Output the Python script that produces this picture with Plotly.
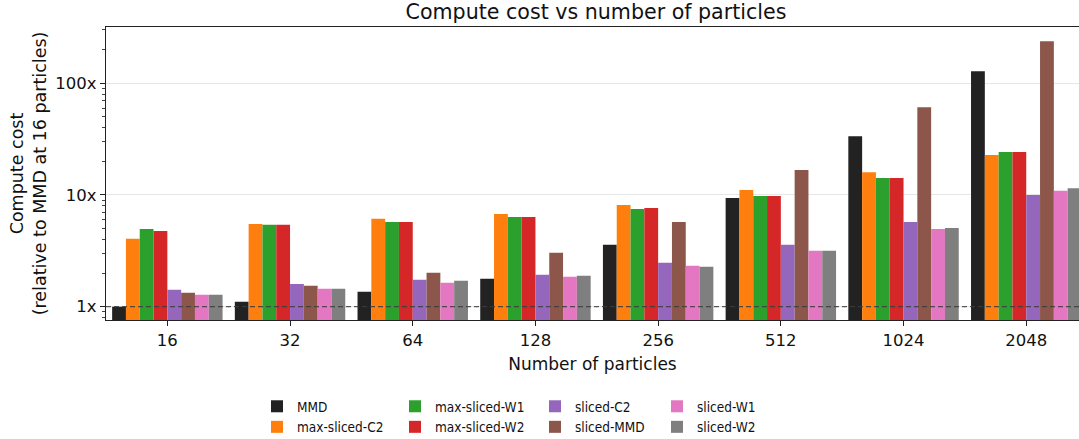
import plotly.graph_objects as go

# Particle counts (x categories)
particles = ["16", "32", "64", "128", "256", "512", "1024", "2048"]

# Relative compute cost per method (relative to MMD at 16 particles)
mmd = [1.0, 1.11, 1.36, 1.78, 3.58, 9.4, 33.6, 128]
max_sliced_c2 = [4.05, 5.51, 6.11, 6.76, 8.15, 11.1, 16.0, 22.8]
max_sliced_w1 = [4.97, 5.40, 5.74, 6.36, 7.50, 9.8, 14.2, 24.2]
max_sliced_w2 = [4.77, 5.40, 5.74, 6.36, 7.66, 9.8, 14.2, 24.2]
sliced_c2 = [1.42, 1.60, 1.74, 1.93, 2.47, 3.58, 5.74, 10.0]
sliced_mmd = [1.33, 1.54, 2.01, 3.04, 5.74, 16.7, 61.0, 237]
sliced_w1 = [1.28, 1.45, 1.64, 1.85, 2.32, 3.16, 4.97, 10.9]
sliced_w2 = [1.28, 1.45, 1.71, 1.89, 2.28, 3.16, 5.07, 11.5]

y_tickvals = [1, 10, 100]
y_ticktext = ["1x", "10x", "100x"]
y_minor_vals = [0.8, 0.9, 2, 3, 4, 5, 6, 7, 8, 9,
                20, 30, 40, 50, 60, 70, 80, 90, 200, 300]

series = [
    ("MMD", mmd, "#222222", "legend"),
    ("max-sliced-C2", max_sliced_c2, "#ff7f0e", "legend"),
    ("max-sliced-W1", max_sliced_w1, "#2ca02c", "legend2"),
    ("max-sliced-W2", max_sliced_w2, "#d62728", "legend2"),
    ("sliced-C2", sliced_c2, "#9467bd", "legend3"),
    ("sliced-MMD", sliced_mmd, "#8c564b", "legend3"),
    ("sliced-W1", sliced_w1, "#e377c2", "legend4"),
    ("sliced-W2", sliced_w2, "#7f7f7f", "legend4"),
]

FONT = "DejaVu Sans"
LEGEND_FONT = "DejaVu Sans Condensed, DejaVu Sans"
W, H = 1079, 439
ML, MR, MT, MB = 106, 0, 27, 119
PW, PH = W - ML - MR, H - MT - MB

fig = go.Figure()
xpos = list(range(len(particles)))
for name, vals, color, leg in series:
    fig.add_trace(go.Bar(
        x=xpos, y=vals, name=name, marker_color=color,
        marker_line_width=0, legend=leg,
    ))

# Reference line at 1x
fig.add_shape(type="line", xref="paper", x0=0, x1=1, yref="y", y0=1, y1=1,
              line=dict(color="rgba(60,60,60,0.85)", width=1.2, dash="5px,3px"),
              layer="above")

def px_x(px):
    return (px - ML) / PW

def px_y(py):
    return (H - MB - py) / PH

legend_style = dict(
    orientation="v", yanchor="top", xanchor="left", y=px_y(391),
    font=dict(family=LEGEND_FONT, size=13.5, color="#111111"),
    bgcolor="rgba(0,0,0,0)", tracegroupgap=0, itemwidth=30,
)
text_starts = [297, 435, 575, 697]

fig.update_layout(
    width=W, height=H,
    margin=dict(l=ML, r=MR, t=MT, b=MB, autoexpand=False),
    plot_bgcolor="white", paper_bgcolor="white",
    barmode="group", bargap=0.1, bargroupgap=0,
    font=dict(family=FONT, size=16, color="#111111"),
    title=dict(text="Compute cost vs number of particles",
               font=dict(family=FONT, size=20.6, color="#111111"),
               xref="paper", x=px_x(596), xanchor="center",
               yref="container", y=1 - 12 / H, yanchor="middle"),
    legend=dict(legend_style, x=px_x(text_starts[0] - 40)),
    legend2=dict(legend_style, x=px_x(text_starts[1] - 40)),
    legend3=dict(legend_style, x=px_x(text_starts[2] - 40)),
    legend4=dict(legend_style, x=px_x(text_starts[3] - 40)),
    showlegend=True,
)

fig.update_xaxes(
    range=[-0.5, 7.43], automargin=False,
    tickvals=xpos, ticktext=particles, tickangle=0,
    ticks="outside", ticklen=5, tickcolor="#222222",
    showline=True, linecolor="#222222", linewidth=1.2, mirror=True,
    showgrid=False, zeroline=False,
    tickfont=dict(family=FONT, size=16.5),
    title=dict(text="Number of particles", font=dict(family=FONT, size=17), standoff=9),
)

fig.update_yaxes(
    type="log", range=[-0.119, 2.503], automargin=False,
    tickvals=y_tickvals, ticktext=y_ticktext,
    ticks="outside", ticklen=5, tickcolor="#222222",
    minor=dict(tickvals=y_minor_vals, ticks="outside", ticklen=3,
               tickcolor="#444444", showgrid=False),
    showline=True, linecolor="#222222", linewidth=1.2, mirror=False,
    showgrid=True, gridcolor="#e6e6e6", gridwidth=1,
    zeroline=False,
    tickfont=dict(family=FONT, size=16.5),
    title=dict(text="Compute cost<br>(relative to MMD at 16 particles)",
               font=dict(family=FONT, size=17.5), standoff=4),
)

fig.write_html("out.html")
